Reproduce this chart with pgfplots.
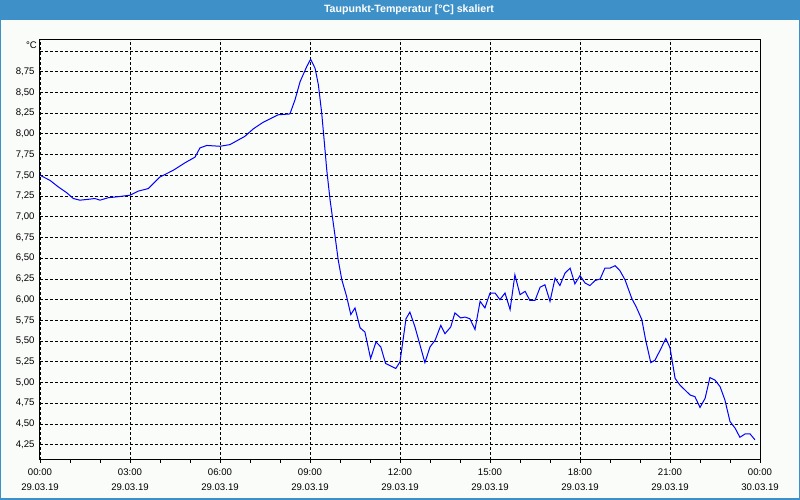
\documentclass[border=0pt]{standalone}
\usepackage{fontspec}
\setmainfont{Liberation Sans}
\usepackage{pgfplots}
\pgfplotsset{compat=1.18}
\definecolor{barblue}{RGB}{61,145,200}
\definecolor{bgcol}{RGB}{250,252,250}
\begin{document}
\begin{tikzpicture}[x=1pt,y=1pt]
\fill[bgcol] (-40,-40) rectangle (760,460);
\fill[barblue] (-40,440) rectangle (760,460);
\draw[barblue, line width=1.5pt] (-39.25,-39.25) rectangle (759.25,459.25);
\node[white, font=\bfseries\fontsize{10.6}{10.6}\selectfont] at (369,450) {Taupunkt-Temperatur [°C] skaliert};
\begin{axis}[
  scale only axis, width=720pt, height=420pt,
  xmin=0, xmax=24, ymin=4.066, ymax=9.132,
  axis line style={black, line width=1pt},
  xtick={0,3,...,24},
  minor xtick={1,2,4,5,7,8,10,11,13,14,16,17,19,20,22,23},
  xticklabels={{00:00\\29.03.19},{03:00\\29.03.19},{06:00\\29.03.19},{09:00\\29.03.19},{12:00\\29.03.19},{15:00\\29.03.19},{18:00\\29.03.19},{21:00\\29.03.19},{00:00\\30.03.19}},
  xticklabel style={align=center, font=\fontsize{9.6}{15}\selectfont, yshift=-2pt},
  ytick={4.25,4.5,4.75,5,5.25,5.5,5.75,6,6.25,6.5,6.75,7,7.25,7.5,7.75,8,8.25,8.5,8.75,9},
  yticklabels={{4,25},{4,50},{4,75},{5,00},{5,25},{5,50},{5,75},{6,00},{6,25},{6,50},{6,75},{7,00},{7,25},{7,50},{7,75},{8,00},{8,25},{8,50},{8,75},{}},
  yticklabel style={font=\fontsize{9.6}{9.6}\selectfont, xshift=1pt},
  xtick pos=bottom, ytick pos=left,
  tick align=outside,
  major tick length=3pt, minor tick length=3pt,
  xtick style={black, line width=0.8pt},
  minor tick style={black, line width=0.8pt},
  ytick style={draw=none},
  grid=major,
  major grid style={black, line width=0.8pt, dash pattern=on 3pt off 2pt},
  clip=true,
]
\addplot[blue, line width=1pt, mark=none] table {
0 7.50
0.33 7.44
0.61 7.36
0.89 7.29
1.11 7.22
1.33 7.20
1.6 7.21
1.83 7.22
2.0 7.20
2.28 7.23
2.56 7.24
3.0 7.26
3.28 7.31
3.61 7.34
4.0 7.48
4.44 7.56
4.83 7.65
5.17 7.72
5.33 7.83
5.56 7.86
6.0 7.85
6.33 7.87
6.83 7.97
7.11 8.06
7.44 8.14
7.94 8.23
8.33 8.24
8.5 8.41
8.67 8.63
8.89 8.81
9.02 8.90
9.17 8.79
9.28 8.59
9.39 8.25
9.47 7.93
9.56 7.56
9.67 7.20
9.83 6.78
9.94 6.48
10.06 6.24
10.22 6.04
10.36 5.82
10.5 5.90
10.67 5.66
10.83 5.61
11.02 5.29
11.2 5.49
11.36 5.43
11.52 5.23
11.86 5.17
12.0 5.25
12.2 5.77
12.33 5.85
12.5 5.67
12.83 5.24
13.0 5.43
13.17 5.51
13.36 5.69
13.5 5.59
13.69 5.67
13.83 5.84
14.02 5.78
14.17 5.79
14.33 5.77
14.5 5.64
14.67 5.98
14.83 5.90
15.0 6.08
15.17 6.08
15.33 6.00
15.5 6.08
15.67 5.88
15.83 6.30
16.0 6.06
16.17 6.10
16.33 5.99
16.5 5.99
16.67 6.15
16.83 6.18
17.0 5.98
17.17 6.26
17.33 6.17
17.5 6.32
17.67 6.38
17.83 6.19
18.0 6.29
18.17 6.20
18.33 6.17
18.5 6.23
18.67 6.25
18.83 6.38
19.0 6.38
19.17 6.41
19.33 6.35
19.5 6.24
19.72 6.02
19.89 5.90
20.06 5.76
20.19 5.51
20.36 5.24
20.5 5.27
20.67 5.39
20.86 5.53
21.0 5.42
21.17 5.05
21.33 4.97
21.5 4.91
21.67 4.85
21.83 4.83
22.0 4.70
22.17 4.81
22.33 5.06
22.5 5.03
22.67 4.95
22.83 4.79
23.0 4.53
23.17 4.45
23.33 4.34
23.5 4.38
23.67 4.38
23.83 4.31
};
\end{axis}
\node[anchor=east, inner sep=0pt, font=\fontsize{9.6}{9.6}\selectfont] at (-3,415) {°C};
\end{tikzpicture}
\end{document}
